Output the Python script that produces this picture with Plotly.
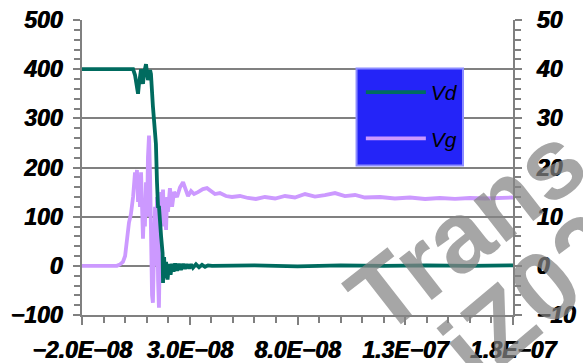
import plotly.graph_objects as go

# Switching waveform: drain voltage Vd (left axis, V) and gate voltage Vg (right axis, V)
vd_t_ns = [-20.0, 3.7, 4.6, 5.5, 6.0, 6.4, 7.4, 7.8, 8.3, 8.8, 9.7, 10.2, 10.6, 11.6, 12.0,
           12.9, 13.9, 14.3, 14.8, 15.3, 15.7, 16.7, 17.4, 17.6, 18.1, 18.5, 19.0, 19.7,
           20.4, 21.1, 21.8, 22.5, 23.2, 24.1, 25.0, 25.9, 26.9, 27.8, 28.7, 29.7, 30.6,
           31.5, 32.9, 34.3, 35.7, 37.1, 38.5, 40.3, 60.0, 80.0, 100.0, 120.0, 140.0,
           160.0, 180.0]
vd_v = [400, 400, 388, 358, 350, 368, 400, 384, 370, 392, 410, 392, 378, 398, 390,
        325, 258, 248, 170, 118, 122, 60, 26, -35, 18, -25, 8, -28,
        4, -18, 4, -12, 5, -10, 4, -8, 4, -6, 3, -5, 3,
        -4, 3, -3, 2, -2, 1, 0, 1, -1, 1, 0, 1,
        0, 1]

vg_t_ns = [-20.0, -3.8, -2.4, -1.0, 0.0, 0.9, 1.8, 2.7, 3.7, 4.6, 5.1, 5.5, 6.0, 6.4, 6.9,
           7.4, 7.8, 8.3, 8.8, 9.2, 9.7, 10.2, 10.6, 11.1, 11.6, 12.0, 12.5, 12.9, 13.4,
           13.9, 14.3, 14.8, 15.3, 15.7, 16.2, 16.7, 17.1, 17.6, 18.1, 18.5, 19.0, 19.5,
           19.9, 20.8, 21.8, 22.7, 24.1, 25.5, 26.9, 28.3, 29.2, 30.6, 32.0, 33.8, 36.1,
           38.0, 39.9, 41.7, 44.0, 46.8, 49.6, 53.3, 57.0, 60.7, 64.9, 69.6, 74.2, 78.8,
           83.5, 88.1, 92.7, 97.4, 102.0, 106.7, 111.3, 118.3, 125.2, 132.2, 139.2, 146.1,
           153.1, 160.0, 167.0, 174.0, 180.0]
vg_v = [0, 0, 0.3, 0.8, 2, 5.5, 8.8, 10.5, 14, 19, 16, 19.5, 13, 18.5, 12,
        19, 9, 5.5, 12, 8, 17, 10, 22, 26.5, 18, 5, -6, -7.5, 5,
        12, 0, 14, -3, -8.5, 5, 15, 10, 15.5, 8, 13, 7.3, 14,
        11, 15.8, 12, 15, 14, 16, 17, 15, 14.2, 15.2, 14.6, 15, 15.6,
        15.8, 15.1, 14.6, 14.8, 14.2, 14.0, 14.2, 13.8, 13.6, 14.0, 13.7, 14.2, 13.9,
        14.6, 14.1, 14.4, 14.8, 14.2, 14.4, 13.9, 14.0, 13.7, 13.9, 13.6, 13.8,
        13.6, 13.8, 13.7, 13.9, 13.9]

# axis ticks
x_tick_vals = [-20, 30, 80, 130, 180]
x_tick_text = ["\u22122.0E\u221208", "3.0E\u221208", "8.0E\u221208", "1.3E\u221207", "1.8E\u221207"]
vd_tick_vals = [-100, 0, 100, 200, 300, 400, 500]
vd_tick_text = ["\u2212100", "0", "100", "200", "300", "400", "500"]
vg_tick_vals = [-10, 0, 10, 20, 30, 40, 50]
vg_tick_text = ["\u221210", "0", "10", "20", "30", "40", "50"]

VD_COLOR = "#006b5f"
VG_COLOR = "#cc99ff"
GRAY = "#808080"
WATERMARK = "rgba(131,131,131,0.72)"
tick_font = dict(family="Liberation Sans", size=23, color="black", weight="bold",
                 style="italic", shadow="0.8px 0px 0px black")
minor_ticks = dict(ticks="outside", ticklen=6, tickwidth=2, tickcolor=GRAY, showgrid=False)

fig = go.Figure()
fig.add_trace(go.Scatter(x=vg_t_ns, y=vg_v, name="Vg", mode="lines", yaxis="y",
                         line=dict(color=VG_COLOR, width=3.8), legendgroup="g", legendrank=2))
fig.add_trace(go.Scatter(x=vd_t_ns, y=vd_v, name="Vd", mode="lines", yaxis="y2",
                         line=dict(color=VD_COLOR, width=3.8), legendgroup="d", legendrank=1))

fig.update_layout(
    width=583, height=363,
    margin=dict(l=82, r=70, t=20, b=48),
    paper_bgcolor="white", plot_bgcolor="white",
    xaxis=dict(range=[-20, 180], tickmode="array", tickvals=x_tick_vals,
               ticktext=x_tick_text, tickangle=0, automargin=False,
               showgrid=False, zeroline=False, showline=True, linecolor=GRAY, linewidth=2,
               ticks="outside", ticklen=8, tickwidth=2, tickcolor=GRAY, tickfont=tick_font,
               ticklabelstandoff=5,
               minor=dict(tickmode="linear", tick0=-20, dtick=10, **minor_ticks)),
    # gate voltage scale (right)
    yaxis=dict(range=[-10, 50], side="right", tickmode="array", tickvals=vg_tick_vals,
               ticktext=vg_tick_text, automargin=False,
               showgrid=True, gridcolor=GRAY, gridwidth=2, zeroline=False,
               showline=True, linecolor=GRAY, linewidth=2,
               ticks="outside", ticklen=7, tickwidth=2, tickcolor=GRAY, tickfont=tick_font,
               ticklabelstandoff=10,
               minor=dict(tickmode="linear", tick0=0, dtick=2, **minor_ticks)),
    # drain voltage scale (left)
    yaxis2=dict(range=[-100, 500], side="left", overlaying="y", tickmode="array",
                tickvals=vd_tick_vals, ticktext=vd_tick_text, automargin=False,
                showgrid=False, zeroline=False, showline=True, linecolor=GRAY, linewidth=2,
                ticks="outside", ticklen=7, tickwidth=2, tickcolor=GRAY, tickfont=tick_font,
                ticklabelstandoff=6,
                minor=dict(tickmode="linear", tick0=0, dtick=20, **minor_ticks)),
    showlegend=True,
    legend=dict(x=0.647, y=0.824, xanchor="left", yanchor="top",
                bgcolor="rgba(0,0,0,0)", borderwidth=0,
                traceorder="grouped", tracegroupgap=16, itemwidth=60,
                font=dict(family="Liberation Sans", size=21, color="black", style="italic")),
    shapes=[dict(type="rect", xref="paper", yref="paper", x0=0.637, x1=0.884, y0=0.507, y1=0.836,
                 fillcolor="#2424f8", line=dict(color="#8c8cff", width=2), layer="above")],
    annotations=[
        dict(text="<b>Trans</b>", xref="paper", yref="paper", x=0.891, y=0.29,
             xanchor="center", yanchor="middle", showarrow=False,
             textangle=-38, font=dict(family="Liberation Sans", size=100, color=WATERMARK)),
        dict(text="<b>iZ02</b>", xref="paper", yref="paper", x=1.044, y=0.06,
             xanchor="center", yanchor="middle", showarrow=False,
             textangle=-40, font=dict(family="Liberation Sans", size=100, color=WATERMARK)),
    ],
)

fig.write_html("out.html")
